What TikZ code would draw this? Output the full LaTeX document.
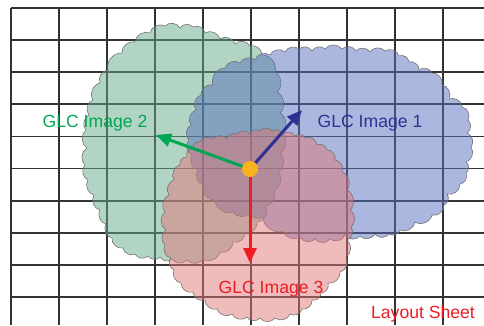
\documentclass[tikz,border=0pt]{standalone}
\usepackage{fontspec}
\setmainfont{Liberation Sans}
\usetikzlibrary{arrows.meta}

\definecolor{glcgreen}{RGB}{101,169,137}
\definecolor{glcblue}{RGB}{87,111,189}
\definecolor{glcred}{RGB}{225,119,119}
\definecolor{txtgreen}{RGB}{0,166,81}
\definecolor{txtblue}{RGB}{46,49,146}
\definecolor{txtred}{RGB}{237,28,36}
\definecolor{pinyellow}{RGB}{247,178,28}

\begin{document}
\begin{tikzpicture}[x=1pt, y=-1pt, line join=round,
    sheetline/.style={line width=1.8pt, draw=black!80},
    cloudpatch/.style={draw=black!55, line width=0.6pt, fill opacity=0.5, bend left=55},
    vecarrow/.style={-{Triangle[length=15pt,width=13pt]}, line width=3pt},
    glclabel/.style={font=\fontsize{17.6}{20}\selectfont, inner sep=0pt, anchor=base}]
    \useasboundingbox (0,0) rectangle (484,325);

    % layout sheet grid
    \foreach \gx in {0,...,9}
        \draw[sheetline] (11+48*\gx, 8) -- (11+48*\gx, 325);
    \foreach \gy in {0,...,9}
        \draw[sheetline] (11, 8+32.1*\gy) -- (484, 8+32.1*\gy);

    % GLC image 2
    \draw[cloudpatch, fill=glcgreen] (100,83) to (108,70) to (122,53) to (135,42) to (150,33)
        to (165,26) to (180,28) to (193,27) to (205,33) to (220,39) to (235,44) to (250,46)
        to (262,55) to (275,72) to (277,92) to (280,113) to (282,133) to (280,153) to (278,172)
        to (274,190) to (266,206) to (257,222) to (245,233) to (233,242) to (220,252) to (203,259)
        to (187,260) to (172,259) to (160,257) to (148,256) to (135,254) to (123,248) to (112,238)
        to (106,224) to (100,210) to (94,195) to (88,180) to (85,165) to (87,148) to (86,130)
        to (89,115) to (93,100) to (100,83) -- cycle;

    % GLC image 1
    \draw[cloudpatch, fill=glcblue] (225,68) to (240,63) to (255,60) to (270,55) to (285,52)
        to (299,49) to (312,51) to (325,49) to (342,49) to (356,51) to (370,52) to (385,51)
        to (399,56) to (409,62) to (419,70) to (432,73) to (442,85) to (449,99) to (462,107)
        to (468,120) to (467,133) to (471,147) to (466,162) to (466,173) to (460,184) to (447,194)
        to (444,205) to (432,215) to (415,222) to (400,230) to (389,234) to (375,234) to (360,236)
        to (345,235) to (330,239) to (315,239) to (300,237) to (283,231) to (263,217) to (250,213)
        to (233,212) to (215,200) to (203,185) to (198,170) to (192,155) to (189,140) to (191,125)
        to (196,110) to (201,95) to (213,85) to (225,68) -- cycle;

    % GLC image 3
    \draw[cloudpatch, fill=glcred] (187,157) to (193,148) to (200,142) to (213,139) to (227,139)
        to (237,134) to (250,134) to (260,131) to (272,131) to (283,134) to (295,136) to (305,138)
        to (317,145) to (327,150) to (335,160) to (342,172) to (347,190) to (350,210) to (351,227)
        to (347,240) to (346,257) to (340,272) to (328,283) to (321,293) to (312,300) to (302,309)
        to (290,314) to (275,318) to (260,318) to (247,317) to (232,314) to (217,309) to (205,300)
        to (193,292) to (181,283) to (174,270) to (171,258) to (165,245) to (166,230) to (165,212)
        to (169,195) to (174,180) to (180,165) to (187,157) -- cycle;

    % shifts from the common point
    \coordinate (hub) at (250,169);
    \coordinate (tipone) at (302,110);
    \coordinate (tiptwo) at (156,135);
    \coordinate (tipthree) at (250,263);
    \draw[vecarrow, txtblue] (hub) -- (tipone);
    \draw[vecarrow, txtgreen] (hub) -- (tiptwo);
    \draw[vecarrow, txtred] (hub) -- (tipthree);
    \node[circle, fill=pinyellow, minimum size=16pt, inner sep=0pt] (pin) at (hub) {};

    % labels
    \node[glclabel, txtblue] (imgone) at (370,127) {GLC Image 1};
    \node[glclabel, txtgreen] (imgtwo) at (95,127) {GLC Image 2};
    \node[glclabel, txtred] (imgthree) at (271,293) {GLC Image 3};
    \node[glclabel, txtred] (sheet) at (423,318) {Layout Sheet};
\end{tikzpicture}
\end{document}
